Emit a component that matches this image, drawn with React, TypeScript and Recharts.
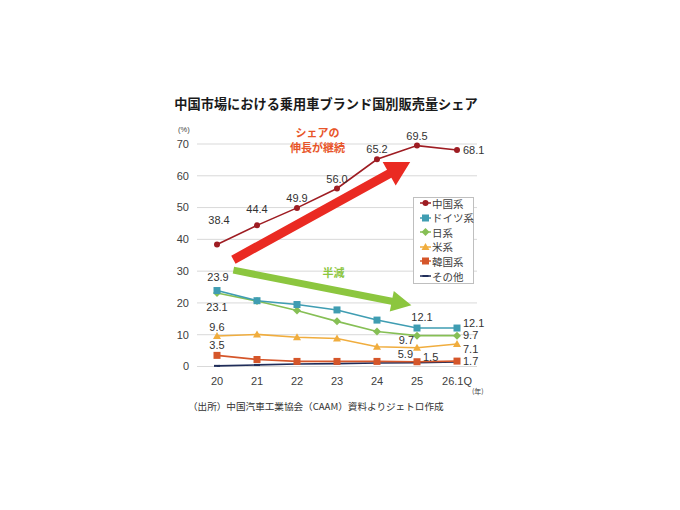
import React from 'react';
import { LineChart, Line, XAxis, YAxis, CartesianGrid, ReferenceLine, ReferenceDot } from 'recharts';

const years = ['20', '21', '22', '23', '24', '25', '26.1Q'];
const yTicks = [0, 10, 20, 30, 40, 50, 60, 70];

const chinaShare = [38.4, 44.4, 49.9, 56.0, 65.2, 69.5, 68.1];
const germanShare = [23.9, 20.7, 19.5, 17.8, 14.6, 12.1, 12.1];
const japanShare = [23.1, 20.6, 17.6, 14.2, 11.0, 9.7, 9.7];
const usShare = [9.6, 10.1, 9.2, 8.8, 6.2, 5.9, 7.1];
const koreaShare = [3.5, 2.2, 1.6, 1.6, 1.6, 1.5, 1.7];
const otherShare = [0.2, 0.5, 0.8, 0.9, 1.1, 1.2, 1.4];

const NUM_FONT = '"Liberation Sans Narrow", "Liberation Sans", Arial, sans-serif';
const JP_FONT = '"Noto Sans CJK JP", "Noto Sans", sans-serif';

type Placement = [number, number, 'start' | 'middle' | 'end'];

// label offsets (dx, dy, anchor) per point index
const series = [
  {
    key: 'china', name: '中国系', color: '#9e1c22', marker: 'circle', values: chinaShare,
    labels: {
      0: [2, -24, 'middle'], 1: [0, -16, 'middle'], 2: [0, -10, 'middle'], 3: [0, -10, 'middle'],
      4: [0, -10, 'middle'], 5: [0, -10, 'middle'], 6: [6, 0, 'start'],
    } as Record<number, Placement>,
  },
  {
    key: 'germany', name: 'ドイツ系', color: '#3f9db2', marker: 'square', values: germanShare,
    labels: { 0: [1, -14, 'middle'], 5: [5, -11, 'middle'], 6: [6, -5, 'start'] } as Record<number, Placement>,
  },
  {
    key: 'japan', name: '日系', color: '#86bf55', marker: 'diamond', values: japanShare,
    labels: { 0: [0, 14, 'middle'], 5: [-3, 4, 'end'], 6: [6, -1, 'start'] } as Record<number, Placement>,
  },
  {
    key: 'us', name: '米系', color: '#f0ad3e', marker: 'triangle', values: usShare,
    labels: { 0: [0, -9, 'middle'], 5: [-4, 6, 'end'], 6: [6, 5, 'start'] } as Record<number, Placement>,
  },
  {
    key: 'korea', name: '韓国系', color: '#d5562a', marker: 'square', values: koreaShare,
    labels: { 0: [0, -10, 'middle'], 5: [6, -5, 'start'], 6: [6, 0, 'start'] } as Record<number, Placement>,
  },
  {
    key: 'other', name: 'その他', color: '#1f2d5a', marker: 'dash', values: otherShare,
    labels: {} as Record<number, Placement>,
  },
];

const data = years.map((year, i) => {
  const row: Record<string, number | string> = { idx: i, year };
  series.forEach((s) => {
    row[s.key] = s.values[i];
  });
  return row;
});

function Marker({ type, cx, cy, color }: { type: string; cx: number; cy: number; color: string }) {
  if (type === 'circle') return <circle cx={cx} cy={cy} r={3} fill={color} />;
  if (type === 'square') return <rect x={cx - 3.5} y={cy - 3.5} width={7} height={7} fill={color} />;
  if (type === 'diamond')
    return <polygon points={`${cx},${cy - 4} ${cx + 4},${cy} ${cx},${cy + 4} ${cx - 4},${cy}`} fill={color} />;
  if (type === 'triangle')
    return <polygon points={`${cx},${cy - 4} ${cx + 4},${cy + 3} ${cx - 4},${cy + 3}`} fill={color} />;
  return <rect x={cx - 3} y={cy - 1} width={6} height={2} fill={color} />;
}

function Arrow(props: any) {
  const { x1, y1, x2, y2, fill, shaft, headW, headL } = props;
  const len = Math.hypot(x2 - x1, y2 - y1);
  const ux = (x2 - x1) / len;
  const uy = (y2 - y1) / len;
  const nx = -uy;
  const ny = ux;
  const bx = x2 - ux * headL;
  const by = y2 - uy * headL;
  const pts = [
    [x1 + nx * shaft / 2, y1 + ny * shaft / 2],
    [bx + nx * shaft / 2, by + ny * shaft / 2],
    [bx + nx * headW / 2, by + ny * headW / 2],
    [x2, y2],
    [bx - nx * headW / 2, by - ny * headW / 2],
    [bx - nx * shaft / 2, by - ny * shaft / 2],
    [x1 - nx * shaft / 2, y1 - ny * shaft / 2],
  ];
  return <polygon points={pts.map((p) => p.join(',')).join(' ')} fill={fill} />;
}

function Legend() {
  return (
    <div
      style={{
        position: 'absolute', left: 413, top: 197, width: 59, height: 85,
        border: '1px solid #bfbfbf', background: '#fff',
      }}
    >
      {series.map((s, i) => (
        <div
          key={s.key}
          style={{
            position: 'absolute', left: 6, top: -2 + i * 14.6, height: 14, display: 'flex', alignItems: 'center',
            fontFamily: JP_FONT, fontSize: 10.5, color: '#404040', whiteSpace: 'nowrap',
          }}
        >
          <svg width={11} height={10} style={{ marginRight: 1 }}>
            <line x1={0} y1={5} x2={11} y2={5} stroke={s.color} strokeWidth={1.5} />
            <Marker type={s.marker} cx={5.5} cy={5} color={s.color} />
          </svg>
          {s.name}
        </div>
      ))}
    </div>
  );
}

export default function App() {
  return (
    <div style={{ position: 'absolute', left: 0, top: 0, width: 680, height: 510, background: '#fff' }}>
      <div
        style={{
          position: 'absolute', left: 0, width: 652, top: 94, textAlign: 'center',
          fontFamily: JP_FONT, fontWeight: 700, fontSize: 13.2, color: '#1a1a1a',
        }}
      >
        中国市場における乗用車ブランド国別販売量シェア
      </div>
      <div style={{ position: 'absolute', left: 178, top: 125, fontFamily: NUM_FONT, fontSize: 7.5, color: '#404040' }}>
        (%)
      </div>
      <div style={{ position: 'absolute', left: 472, top: 386, fontFamily: JP_FONT, fontSize: 7, color: '#404040' }}>
        (年)
      </div>
      <div
        style={{
          position: 'absolute', left: 188, top: 399, fontFamily: JP_FONT, fontSize: 9.6, color: '#333',
          whiteSpace: 'nowrap',
        }}
      >
        （出所）中国汽車工業協会（CAAM）資料よりジェトロ作成
      </div>
      <div style={{ position: 'absolute', left: 0, top: 0 }}>
        <LineChart width={680} height={510} data={data} margin={{ top: 144, right: 203, bottom: 113.5, left: 167 }}>
          <CartesianGrid vertical={false} stroke="#d9d9d9" />
          <XAxis
            dataKey="idx"
            type="number"
            domain={[-0.5, 6.5]}
            ticks={[0, 1, 2, 3, 4, 5, 6]}
            tickFormatter={(v: number) => years[v]}
            height={30}
            axisLine={false}
            tickLine={false}
            tickMargin={5}
            tick={{ fill: '#404040', fontSize: 11, fontFamily: NUM_FONT }}
          />
          <YAxis
            domain={[0, 70]}
            ticks={yTicks}
            width={30}
            axisLine={false}
            tickLine={false}
            tick={{ fill: '#404040', fontSize: 11, fontFamily: NUM_FONT }}
          />
          {series
            .slice()
            .reverse()
            .map((s) => (
              <Line
                key={s.key}
                dataKey={s.key}
                stroke={s.color}
                strokeWidth={1.6}
                isAnimationActive={false}
                dot={(p: any) => <Marker key={`${s.key}-${p.index}`} type={s.marker} cx={p.cx} cy={p.cy} color={s.color} />}
                activeDot={false}
                label={(p: any) => {
                  const pl = s.labels[p.index];
                  if (!pl) return <g key={`${s.key}-l-${p.index}`} />;
                  return (
                    <text
                      key={`${s.key}-l-${p.index}`}
                      x={p.x + pl[0]}
                      y={p.y + pl[1]}
                      textAnchor={pl[2]}
                      dominantBaseline="central"
                      fontSize={11}
                      fontFamily={NUM_FONT}
                      fill="#333"
                    >
                      {Number(p.value).toFixed(1)}
                    </text>
                  );
                }}
              />
            ))}
          <ReferenceLine
            segment={[{ x: 0.41, y: 33.6 }, { x: 4.83, y: 64.3 }]}
            ifOverflow="visible"
            shape={(p: any) => <Arrow {...p} fill="#ea2a22" shaft={9} headW={27} headL={24} />}
          />
          <ReferenceLine
            segment={[{ x: 0.41, y: 30.3 }, { x: 4.86, y: 19.3 }]}
            ifOverflow="visible"
            shape={(p: any) => <Arrow {...p} fill="#8cc63f" shaft={7} headW={21} headL={20} />}
          />
          <ReferenceDot
            x={2.51}
            y={71.2}
            ifOverflow="visible"
            shape={(p: any) => (
              <text
                x={p.cx}
                y={p.cy}
                textAnchor="middle"
                fontFamily={JP_FONT}
                fontWeight={700}
                fontSize={11}
                fill="#e8552a"
              >
                <tspan x={p.cx} dy={-3}>シェアの</tspan>
                <tspan x={p.cx} dy={14.5}>伸長が継続</tspan>
              </text>
            )}
          />
          <ReferenceDot
            x={2.91}
            y={29.7}
            ifOverflow="visible"
            shape={(p: any) => (
              <text
                x={p.cx}
                y={p.cy}
                textAnchor="middle"
                dominantBaseline="central"
                fontFamily={JP_FONT}
                fontWeight={700}
                fontSize={11}
                fill="#8cc63f"
              >
                半減
              </text>
            )}
          />
        </LineChart>
      </div>
      <Legend />
    </div>
  );
}
